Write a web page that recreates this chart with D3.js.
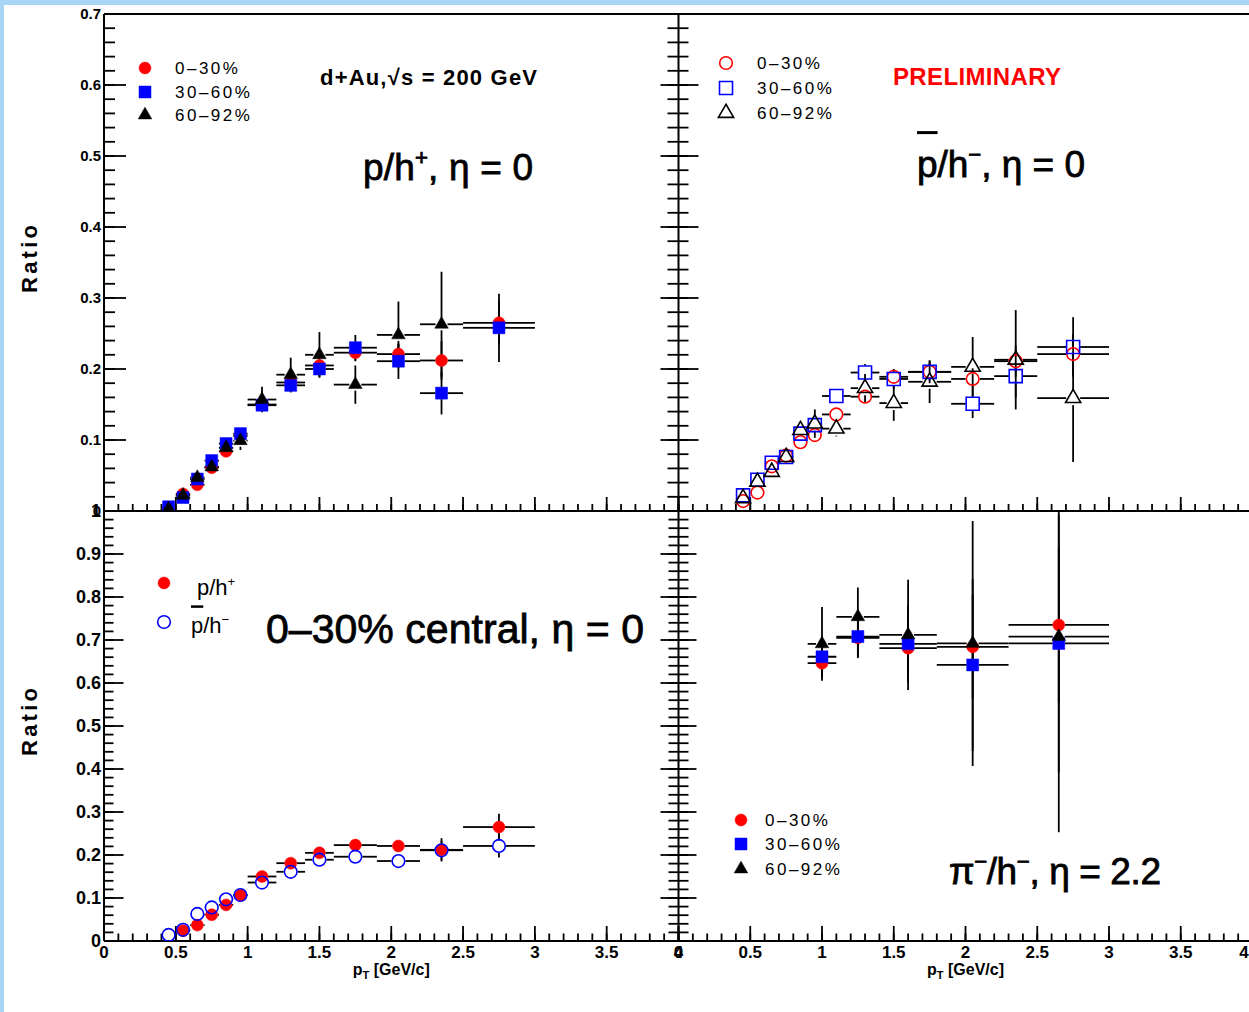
<!DOCTYPE html>
<html>
<head>
<meta charset="utf-8">
<script src="https://cdn.jsdelivr.net/npm/d3@7"></script>
<style>
  body { margin: 0; background: #fff; }
  svg { display: block; }
</style>
</head>
<body>
<div id="chart"></div>
<script>
// pT bins (GeV/c) for the proton ratios
var ptBins = [0.45, 0.55, 0.65, 0.75, 0.85, 0.95, 1.1, 1.3, 1.5, 1.75, 2.05, 2.35, 2.75];
var ptLow  = [0.4, 0.5, 0.6, 0.7, 0.8, 0.9, 1.0, 1.2, 1.4, 1.6, 1.9, 2.2, 2.5];
var ptHigh = [0.5, 0.6, 0.7, 0.8, 0.9, 1.0, 1.2, 1.4, 1.6, 1.9, 2.2, 2.5, 3.0];

// p/h+ , eta = 0
var pPlus030     = [null, 0.024, 0.037, 0.061, 0.084, 0.106, 0.150, 0.181, 0.205, 0.223, 0.221, 0.212, 0.265];
var pPlus030Err  = [null, 0.004, 0.004, 0.005, 0.005, 0.006, 0.008, 0.009, 0.011, 0.012, 0.014, 0.027, 0.031];
var pPlus3060    = [0.006, 0.019, 0.045, 0.071, 0.095, 0.109, 0.149, 0.177, 0.200, 0.230, 0.211, 0.166, 0.258];
var pPlus3060Err = [0.004, 0.004, 0.005, 0.006, 0.006, 0.007, 0.009, 0.010, 0.012, 0.018, 0.025, 0.030, 0.048];
var pPlus6092    = [0.003, 0.022, 0.047, 0.062, 0.089, 0.099, 0.157, 0.192, 0.220, 0.178, 0.248, 0.263, null];
var pPlus6092Err = [0.004, 0.005, 0.006, 0.007, 0.008, 0.013, 0.018, 0.024, 0.032, 0.027, 0.047, 0.074, null];

// pbar/h- , eta = 0
var pBar030     = [0.014, 0.026, 0.063, 0.078, 0.097, 0.107, 0.136, 0.161, 0.189, 0.196, 0.186, 0.211, 0.221];
var pBar030Err  = [0.004, 0.004, 0.005, 0.006, 0.006, 0.007, 0.008, 0.009, 0.010, 0.012, 0.015, 0.022, 0.027];
var pBar3060    = [0.022, 0.044, 0.068, 0.076, 0.109, 0.121, 0.162, 0.195, 0.186, 0.196, 0.151, 0.190, 0.231];
var pBar3060Err = [0.004, 0.005, 0.006, 0.006, 0.007, 0.008, 0.009, 0.012, 0.014, 0.016, 0.020, 0.030, 0.042];
var pBar6092    = [0.018, 0.041, 0.055, 0.076, 0.114, 0.123, 0.116, 0.173, 0.152, 0.182, 0.203, 0.213, 0.159];
var pBar6092Err = [0.005, 0.006, 0.007, 0.008, 0.010, 0.020, 0.011, 0.020, 0.025, 0.030, 0.042, 0.070, 0.090];

// pi-/h- , eta = 2.2
var piBins = [1.0, 1.25, 1.6, 2.05, 2.65];
var piLow  = [0.9, 1.1, 1.4, 1.8, 2.3];
var piHigh = [1.1, 1.4, 1.8, 2.3, 3.0];
var pi030     = [0.646, 0.705, 0.681, 0.684, 0.735];
var pi030Err  = [0.035, 0.045, 0.070, 0.120, 0.180];
var pi3060    = [0.661, 0.708, 0.691, 0.642, 0.692];
var pi3060Err = [0.045, 0.050, 0.090, 0.200, 0.300];
var pi6092    = [0.691, 0.754, 0.712, 0.692, 0.708];
var pi6092Err = [0.086, 0.068, 0.128, 0.285, 0.455];

var centralities = ["0\u201330%", "30\u201360%", "60\u201392%"];

// axis ticks
var xTicks = [0, 0.5, 1, 1.5, 2, 2.5, 3, 3.5, 4];
var topYTicks = [0, 0.1, 0.2, 0.3, 0.4, 0.5, 0.6, 0.7];
var bottomYTicks = [0, 0.1, 0.2, 0.3, 0.4, 0.5, 0.6, 0.7, 0.8, 0.9, 1];

var W = 1249, H = 1012;
var FONT = "'Liberation Sans', Arial, Helvetica, sans-serif";
var RED = "#ff0000", BLUE = "#0000ff", BLACK = "#000";

var svg = d3.select("#chart").append("svg")
  .attr("width", W)
  .attr("height", H)
  .style("font-family", FONT);

svg.append("rect").attr("width", W).attr("height", H).attr("fill", "#fff");
// light blue canvas border (left and top)
svg.append("rect").attr("x", 0).attr("y", 0).attr("width", 4).attr("height", H).attr("fill", "#a9d5f6");
svg.append("rect").attr("x", 0).attr("y", 0).attr("width", W).attr("height", 5).attr("fill", "#a9d5f6");

// scales
var xLeft  = d3.scaleLinear().domain([0, 4]).range([104, 678.5]);
var xRight = d3.scaleLinear().domain([0, 4]).range([678.5, 1252.5]);
var yTop   = d3.scaleLinear().domain([0, 0.7]).range([511, 14]);
var yBot   = d3.scaleLinear().domain([0, 1]).range([941, 511]);

var defs = svg.append("defs");
function pad(name, xs, ys) {
  var r = xs.range(), q = ys.range();
  defs.append("clipPath").attr("id", name).append("rect")
    .attr("x", r[0]).attr("y", q[1]).attr("width", r[1] - r[0]).attr("height", q[0] - q[1]);
  return svg.append("g").attr("clip-path", "url(#" + name + ")");
}

// ---------- axes & ticks ----------
var axes = svg.append("g").attr("stroke", BLACK).attr("fill", "none");

function yTickMarks(xPos, ys, majors, minorStep, dir, lenMaj, lenMin) {
  var d = ys.domain();
  var minors = d3.range(0, Math.round(d[1] / minorStep) + 1).map(function(i) { return i * minorStep; });
  minors.forEach(function(v) {
    axes.append("line").attr("x1", xPos).attr("x2", xPos + dir * lenMin)
      .attr("y1", ys(v)).attr("y2", ys(v)).attr("stroke-width", 1.8);
  });
  majors.forEach(function(v) {
    axes.append("line").attr("x1", xPos).attr("x2", xPos + dir * lenMaj)
      .attr("y1", ys(v)).attr("y2", ys(v)).attr("stroke-width", 1.8);
  });
}

function xTickMarks(xs, yPos, lenMaj, lenMin) {
  d3.range(0, 41).map(function(i) { return i / 10; }).forEach(function(v) {
    axes.append("line").attr("x1", xs(v)).attr("x2", xs(v))
      .attr("y1", yPos).attr("y2", yPos - lenMin).attr("stroke-width", 1.8);
  });
  xTicks.forEach(function(v) {
    axes.append("line").attr("x1", xs(v)).attr("x2", xs(v))
      .attr("y1", yPos).attr("y2", yPos - lenMaj).attr("stroke-width", 1.8);
  });
}

// top pads
yTickMarks(104, yTop, topYTicks, 0.02, 1, 22, 11);
yTickMarks(678.5, yTop, topYTicks, 0.02, -1, 18, 11);
yTickMarks(678.5, yTop, topYTicks, 0.02, 1, 20, 10);
xTickMarks(xLeft, 511, 14, 7);
xTickMarks(xRight, 511, 14, 7);
// bottom pads
yTickMarks(104, yBot, bottomYTicks, 0.02, 1, 19.5, 9.5);
yTickMarks(678.5, yBot, bottomYTicks, 0.02, -1, 18, 10);
yTickMarks(678.5, yBot, bottomYTicks, 0.02, 1, 18, 10);
xTickMarks(xLeft, 941, 15, 7.5);
xTickMarks(xRight, 941, 15, 7.5);

// frame lines
[[104, 14, W, 14], [104, 14, 104, 941], [678.5, 14, 678.5, 941],
 [104, 511, W, 511], [104, 941, W, 941]].forEach(function(l) {
  axes.append("line").attr("x1", l[0]).attr("y1", l[1]).attr("x2", l[2]).attr("y2", l[3])
    .attr("stroke-width", 2);
});

// tick labels
var fmt = function(v) { return String(+v.toFixed(2)); };
bottomYTicks.forEach(function(v) {
  svg.append("text").attr("x", 101).attr("y", yBot(v)).attr("dy", "0.36em")
    .attr("text-anchor", "end").attr("font-size", 18).attr("font-weight", "bold")
    .text(fmt(v));
});
topYTicks.forEach(function(v) {
  svg.append("text").attr("x", 101).attr("y", yTop(v)).attr("dy", "0.36em")
    .attr("text-anchor", "end").attr("font-size", 15).attr("font-weight", "bold")
    .text(fmt(v));
});
[xLeft, xRight].forEach(function(xs, k) {
  xTicks.forEach(function(v) {
    // the last label of the right pad sits on the canvas edge, as in the original
    var xp = (k === 1 && v === 4) ? W - 5 : xs(v);
    svg.append("text").attr("x", xp).attr("y", 958)
      .attr("text-anchor", "middle").attr("font-size", 17).attr("font-weight", "bold")
      .text(fmt(v));
  });
  // x axis title
  var t = svg.append("text").attr("x", xs(2)).attr("y", 975)
    .attr("text-anchor", "middle").attr("font-size", 16).attr("font-weight", "bold");
  t.append("tspan").text("p");
  t.append("tspan").attr("font-size", 11).attr("dy", 4).text("T");
  t.append("tspan").attr("dy", -4).text(" [GeV/c]");
});

// y axis titles
[259, 722].forEach(function(cy) {
  svg.append("text").attr("transform", "translate(37," + cy + ") rotate(-90)")
    .attr("text-anchor", "middle").attr("font-size", 22).attr("font-weight", "bold")
    .attr("textLength", 68).attr("lengthAdjust", "spacing")
    .text("Ratio");
});

// ---------- markers & error bars ----------
var shapes = { circle: d3.symbolCircle, square: d3.symbolSquare, triangle: d3.symbolTriangle };
function markerSize(st) {
  if (st.shape === "circle") return st.open ? 125 : 113;
  if (st.shape === "square") return st.open ? 169 : 144;
  return st.open ? 100 : 80;
}
function drawMarker(g, cx, cy, st) {
  g.append("path")
    .attr("d", d3.symbol().type(shapes[st.shape]).size(markerSize(st))())
    .attr("transform", "translate(" + cx + "," + cy + ")")
    .attr("fill", st.open ? "none" : st.color)
    .attr("stroke", st.color)
    .attr("stroke-width", st.open ? 1.6 : 0.5);
}

function drawBars(g, xs, ys, bins, lo, hi, vals, errs, st) {
  var half = st.open ? 7 : 6;
  bins.forEach(function(b, i) {
    if (vals[i] == null) return;
    var cx = xs(b), cy = ys(vals[i]);
    var segs = [];
    var xl = xs(lo[i]), xh = xs(hi[i]);
    var yh = ys(vals[i] + errs[i]), yl = ys(vals[i] - errs[i]);
    if (xl < cx - half) segs.push([xl, cy, cx - half, cy]);
    if (xh > cx + half) segs.push([cx + half, cy, xh, cy]);
    if (yh < cy - half) segs.push([cx, yh, cx, cy - half]);
    if (yl > cy + half) segs.push([cx, cy + half, cx, yl]);
    segs.forEach(function(s) {
      g.append("line").attr("x1", s[0]).attr("y1", s[1]).attr("x2", s[2]).attr("y2", s[3])
        .attr("stroke", BLACK).attr("stroke-width", 1.8);
    });
  });
}

function drawMarkers(g, xs, ys, bins, vals, st) {
  bins.forEach(function(b, i) {
    if (vals[i] == null) return;
    drawMarker(g, xs(b), ys(vals[i]), st);
  });
}

var stFilled = [
  { shape: "circle", color: RED, open: false },
  { shape: "square", color: BLUE, open: false },
  { shape: "triangle", color: BLACK, open: false }
];
var stOpen = [
  { shape: "circle", color: RED, open: true },
  { shape: "square", color: BLUE, open: true },
  { shape: "triangle", color: BLACK, open: true }
];

function panel(g, xs, ys, bins, lo, hi, series, styles) {
  series.forEach(function(s, k) { drawBars(g, xs, ys, bins, lo, hi, s[0], s[1], styles[k]); });
  series.forEach(function(s, k) { drawMarkers(g, xs, ys, bins, s[0], styles[k]); });
}

panel(pad("clipTL", xLeft, yTop), xLeft, yTop, ptBins, ptLow, ptHigh,
  [[pPlus030, pPlus030Err], [pPlus3060, pPlus3060Err], [pPlus6092, pPlus6092Err]], stFilled);
panel(pad("clipTR", xRight, yTop), xRight, yTop, ptBins, ptLow, ptHigh,
  [[pBar030, pBar030Err], [pBar3060, pBar3060Err], [pBar6092, pBar6092Err]], stOpen);
panel(pad("clipBL", xLeft, yBot), xLeft, yBot, ptBins, ptLow, ptHigh,
  [[pPlus030, pPlus030Err], [pBar030, pBar030Err]],
  [stFilled[0], { shape: "circle", color: BLUE, open: true }]);
panel(pad("clipBR", xRight, yBot), xRight, yBot, piBins, piLow, piHigh,
  [[pi030, pi030Err], [pi3060, pi3060Err], [pi6092, pi6092Err]], stFilled);

// ---------- legends ----------
var leg = svg.append("g");
function legend(x, ys, tx, styles) {
  styles.forEach(function(st, i) {
    drawMarker(leg, x, ys[i], st);
    leg.append("text").attr("x", tx).attr("y", ys[i] + 6)
      .attr("font-size", 17).attr("letter-spacing", 2.5)
      .text(centralities[i]);
  });
}
legend(145, [68, 92, 115], 175, stFilled);
legend(726, [63, 88, 113], 757, stOpen);
legend(741, [820, 844, 869], 765, stFilled);

// ---------- labels with sub/superscripts ----------
function richText(x, y, size, parts, opts) {
  opts = opts || {};
  var t = svg.append("text").attr("x", x).attr("y", y).attr("font-size", size)
    .attr("fill", opts.fill || BLACK);
  if (opts.weight) t.attr("font-weight", opts.weight);
  if (opts.stroke) t.attr("stroke", opts.fill || BLACK).attr("stroke-width", opts.stroke);
  var shift = 0, idx = 0, bars = [];
  parts.forEach(function(p) {
    var ts = t.append("tspan").text(p.t);
    var target = p.sup ? -0.4 * size : 0;
    if (target !== shift) { ts.attr("dy", target - shift); shift = target; }
    if (p.sup) ts.attr("font-size", size * 0.6);
    if (p.bar) bars.push(idx);
    idx += p.t.length;
  });
  if (opts.len) t.attr("textLength", opts.len).attr("lengthAdjust", "spacing");
  bars.forEach(function(i) {
    var r = t.node().getExtentOfChar(i);
    svg.append("line").attr("x1", r.x).attr("x2", r.x + r.width)
      .attr("y1", y - 1.2 * size).attr("y2", y - 1.2 * size)
      .attr("stroke", BLACK).attr("stroke-width", opts.barW || 3);
  });
  return t;
}

richText(320, 85, 22, [{ t: "d+Au,\u221As = 200 GeV" }], { weight: "bold", len: 217 });
richText(893, 85, 24, [{ t: "PRELIMINARY" }], { fill: RED, weight: "bold", len: 168 });

richText(363, 180, 37, [{ t: "p/h" }, { t: "+", sup: true }, { t: ", \u03B7 = 0" }], { stroke: 0.8, len: 170 });
richText(917, 177, 37, [{ t: "p", bar: true }, { t: "/h" }, { t: "\u2212", sup: true }, { t: ", \u03B7 = 0" }],
  { stroke: 0.8, len: 168 });
richText(266, 643, 41, [{ t: "0\u201330% central, \u03B7 = 0" }], { stroke: 0.8, len: 378 });
richText(949, 884, 37, [{ t: "\u03C0" }, { t: "\u2212", sup: true }, { t: "/h" }, { t: "\u2212", sup: true },
  { t: ", \u03B7 = 2.2" }], { stroke: 0.8, len: 212 });

// bottom-left legend
drawMarker(leg, 164, 583, stFilled[0]);
drawMarker(leg, 164, 622, { shape: "circle", color: BLUE, open: true });
richText(197, 595, 22, [{ t: "p/h" }, { t: "+", sup: true }]);
richText(191, 633, 22, [{ t: "p", bar: true }, { t: "/h" }, { t: "\u2212", sup: true }], { barW: 2.5 });
</script>
</body>
</html>
